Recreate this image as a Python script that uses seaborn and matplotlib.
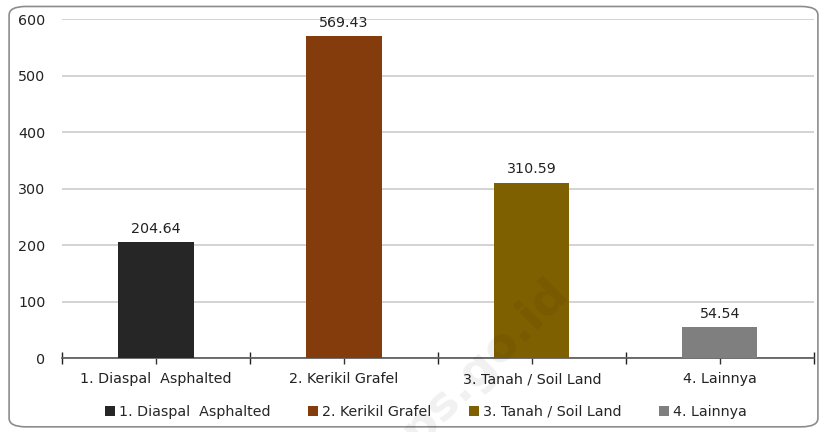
import numpy as np
import pandas as pd
import matplotlib.pyplot as plt
import seaborn as sns
from matplotlib.patches import FancyBboxPatch, Patch
from matplotlib.ticker import FixedLocator

# Data
categories = ['1. Diaspal  Asphalted', '2. Kerikil Grafel', '3. Tanah / Soil Land', '4. Lainnya']
values = [204.64, 569.43, 310.59, 54.54]
colors = ['#262626', '#843C0C', '#7F6000', '#7F7F7F']
y_ticks = [0, 100, 200, 300, 400, 500, 600]

df = pd.DataFrame({'kategori': categories, 'nilai': values})

sns.set_style('white')
plt.rcParams['font.family'] = ['DejaVu Sans']
fs = 10.3

fig = plt.figure(figsize=(8.27, 4.32), dpi=100)
ax = fig.add_axes([0.075, 0.171, 0.909, 0.785])

sns.barplot(data=df, x='kategori', y='nilai', hue='kategori', palette=colors,
            width=0.4, saturation=1, linewidth=0, legend=False, ax=ax, zorder=3)

ax.set_ylim(0, 600)
ax.set_xlim(-0.5, len(categories) - 0.5)
ax.set_yticks(y_ticks)
ax.set_yticklabels([str(t) for t in y_ticks], fontsize=fs, color='#222222')
ax.yaxis.grid(True, color='#cccccc', linewidth=1.2, zorder=0)
ax.set_xlabel('')
ax.set_ylabel('')
ax.tick_params(axis='y', left=False, length=0, pad=12)

# category labels at centers, tick marks at the boundaries
ax.set_xticks(range(len(categories)))
ax.set_xticklabels(categories, fontsize=fs, color='#222222')
ax.tick_params(axis='x', which='both', bottom=True)
ax.tick_params(axis='x', which='major', length=4, direction='out', width=1, color='#333333', pad=6)
ax.xaxis.set_minor_locator(FixedLocator(np.arange(-0.5, len(categories), 1.0)))
ax.tick_params(axis='x', which='minor', length=8, direction='inout', width=1, color='#222222')

for side in ['top', 'right', 'left']:
    ax.spines[side].set_visible(False)
ax.spines['bottom'].set_color('#555555')
ax.spines['bottom'].set_linewidth(1.2)

# value labels
for i, v in enumerate(values):
    ax.text(i, v + 12, f'{v:.2f}', ha='center', va='bottom', fontsize=fs, color='#222222')

# legend
handles = [Patch(facecolor=c, edgecolor='none') for c in colors]
fig.legend(handles, categories, loc='center', bbox_to_anchor=(0.515, 0.047), ncol=4,
           frameon=False, fontsize=fs, handlelength=0.7, handleheight=0.7,
           handletextpad=0.3, columnspacing=2.6)

# watermark
fig.text(0.572, 0.135, 'bps.go.id', fontsize=34, fontweight='bold', color='black', alpha=0.06,
         rotation=45, ha='center', va='center', zorder=10)

# rounded border around the whole chart
border = FancyBboxPatch((0.011, 0.012), 0.978, 0.973, boxstyle='round,pad=0,rounding_size=0.02',
                        transform=fig.transFigure, facecolor='none', edgecolor='#8c8c8c',
                        linewidth=1.2)
fig.patches.append(border)

fig.savefig('out.png', dpi=100)
